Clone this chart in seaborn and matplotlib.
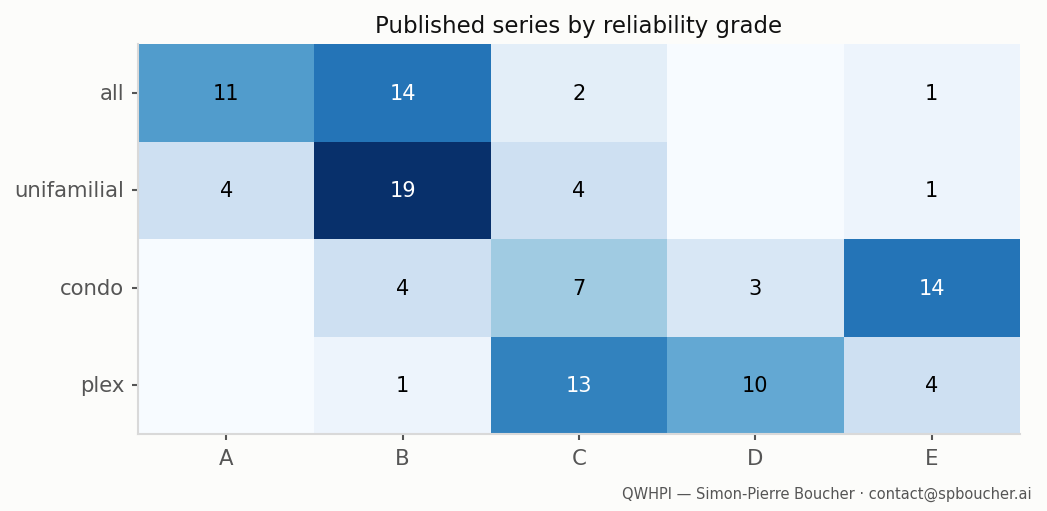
import matplotlib.pyplot as plt
import numpy as np
import pandas as pd
import seaborn as sns

grades = ["A", "B", "C", "D", "E"]
segments = ["all", "unifamilial", "condo", "plex"]
counts_all = [11, 14, 2, 0, 1]
counts_unifamilial = [4, 19, 4, 0, 1]
counts_condo = [0, 4, 7, 3, 14]
counts_plex = [0, 1, 13, 10, 4]

df = pd.DataFrame(
    [counts_all, counts_unifamilial, counts_condo, counts_plex],
    index=segments, columns=grades,
)
labels = df.map(lambda v: "" if v == 0 else str(v))

bg = "#fcfcfa"
fig = plt.figure(figsize=(6.98, 3.413), dpi=150, facecolor=bg)
ax = fig.add_axes([0.1318, 0.150, 0.8424, 0.762])
ax.set_facecolor(bg)

sns.heatmap(df, annot=labels, fmt="", cmap="Blues", vmin=0, vmax=19,
            cbar=False, ax=ax, annot_kws={"fontsize": 10})

# white text only on the darker cells
vmax = df.values.max()
for t in ax.texts:
    if t.get_text():
        t.set_color("white" if int(t.get_text()) > 0.6 * vmax else "black")

for side in ["left", "bottom"]:
    ax.spines[side].set_visible(True)
    ax.spines[side].set_color("#d9d9d9")
    ax.spines[side].set_linewidth(1.0)
ax.tick_params(colors="#555555", labelsize=10.2, length=3, width=1)
plt.setp(ax.get_yticklabels(), rotation=0)
ax.set_xlabel("")
ax.set_ylabel("")
ax.set_title("Published series by reliability grade", fontsize=11, color="#111111", pad=6)

fig.text(0.985, 0.035, "QWHPI — Simon-Pierre Boucher · contact@spboucher.ai",
         ha="right", va="center", fontsize=7, color="#555555")

fig.savefig("out.png", dpi=150, facecolor=bg)
